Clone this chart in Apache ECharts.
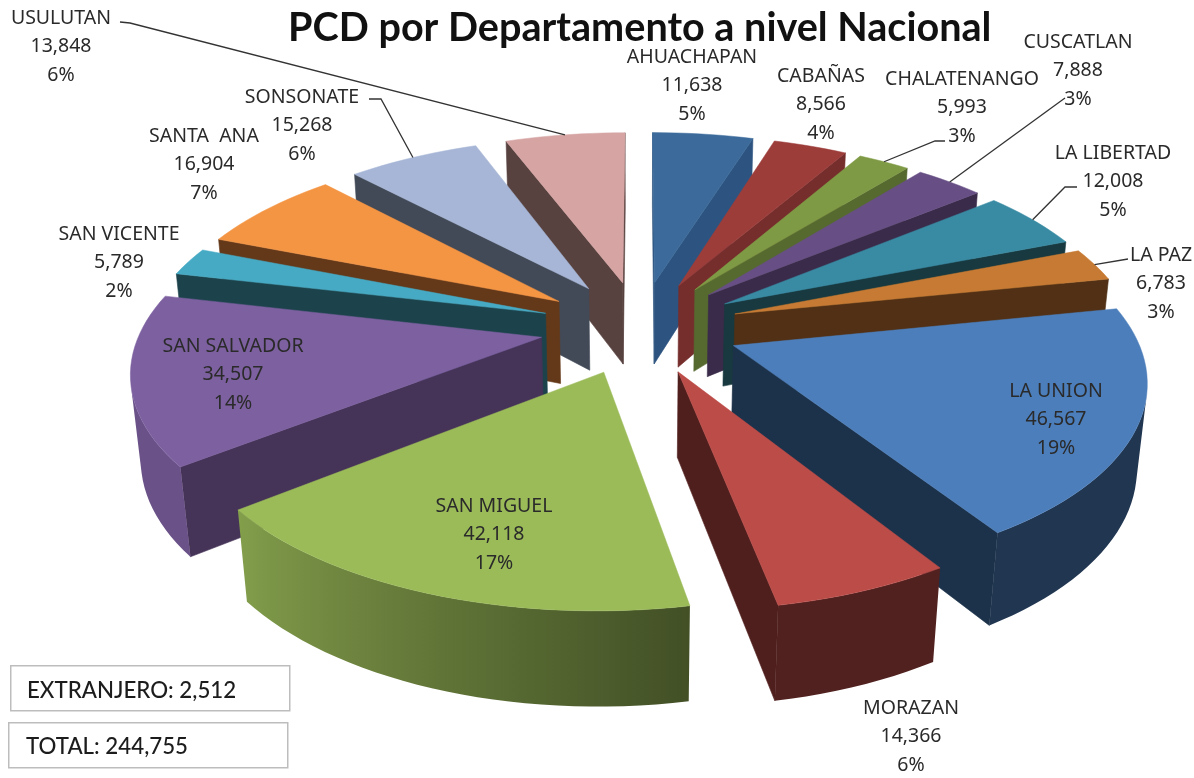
<!DOCTYPE html>
<html><head><meta charset="utf-8">
<style>html,body{margin:0;padding:0;background:#fff}#c{width:1194px;height:778px}</style>
<script src="https://cdn.jsdelivr.net/npm/echarts@6/dist/echarts.min.js"></script>
</head><body><div id="c"></div>
<script>
// ---- data ----
const categories = ['AHUACHAPAN','CABAÑAS','CHALATENANGO','CUSCATLAN','LA LIBERTAD','LA PAZ','LA UNION','MORAZAN','SAN MIGUEL','SAN SALVADOR','SAN VICENTE','SANTA  ANA','SONSONATE','USULUTAN'];
const values = [11638,8566,5993,7888,12008,6783,46567,14366,42118,34507,5789,16904,15268,13848];
const percents = [5,4,3,3,5,3,19,6,17,14,2,7,6,6];
const titleText = 'PCD por Departamento a nivel Nacional';
const extranjero = 2512;
const total = 244755;

// ---- styles ----
const topColors  = ['#3b6a9b','#9c3d3a','#7f9a45','#674f85','#388ba3','#c67a33','#4c7ebb','#bc4c48','#9bbb59','#7d60a0','#46aac5','#f49544','#a7b6d6','#d5a4a3'];
const sideColors = ['#2d5480','#752e2c','#566a30','#3b2b4a','#17393f','#513015','#1c324a','#4f1f1d','#4d5e2c','#453358','#1c434c','#64391a','#424a58','#58423f'];
const FONT = 'Lato';
const LABEL_FONT = '"Noto Sans"';

// ---- view model of the tilted, exploded pie ----
const VIEW = {cx:640, cy:327, A:400, B:186, H:85, p:0.155, g:0.02, e:0.25};
function project(x,y,h){
  const q = 1 + VIEW.p*y + VIEW.g*h;
  return [VIEW.cx + VIEW.A*x/q, VIEW.cy + (-VIEW.B*y + VIEW.H*h)/q];
}
const sum = values.reduce((a,b)=>a+b,0);
const slices = []; let acc = 0;
values.forEach(v=>{ const a0=acc/sum*360; acc+=v; const a1=acc/sum*360; slices.push({a0,a1,mid:(a0+a1)/2}); });
const rad = d=>d*Math.PI/180;
function world(i,r,deg){
  const m=rad(slices[i].mid), t=rad(deg);
  return [r*Math.sin(t)+VIEW.e*Math.sin(m), r*Math.cos(t)+VIEW.e*Math.cos(m)];
}
function mix(hex,f){
  const n=parseInt(hex.slice(1),16);
  const c=[n>>16,(n>>8)&255,n&255].map(v=>Math.round(v*f));
  return 'rgb('+c.join(',')+')';
}
function wallFactor(deg){
  if(deg<=170) return 0.43;
  if(deg>=232) return 0.85;
  return 0.43+(deg-170)/62*0.42;
}
function area(ps){ let s=0; ps.forEach((p,i)=>{const q=ps[(i+1)%ps.length]; s+=p[0]*q[1]-q[0]*p[1];}); return s/2; }
function quadPts(w1,w2){ return [project(w1[0],w1[1],0),project(w2[0],w2[1],0),project(w2[0],w2[1],1),project(w1[0],w1[1],1)]; }
function radial(w1,w2,fill){
  const ps=quadPts(w1,w2);
  if(area(ps)>=0) return null;
  return {type:'polygon',shape:{points:ps},style:{fill:fill,stroke:fill,lineWidth:0.6}};
}
function renderSlice(params,api){
  const i=api.value(0);
  const s=slices[i]; const steps=Math.max(4,Math.ceil((s.a1-s.a0)/2));
  const apex=world(i,0,0), kids=[], topPts=[project(apex[0],apex[1],0)];
  const rimStart=world(i,1,s.a0), rimEnd=world(i,1,s.a1);
  const q1=radial(apex,rimStart,sideColors[i]), q2=radial(rimEnd,apex,sideColors[i]);
  if(q1)kids.push(q1); if(q2)kids.push(q2);
  let prev=rimStart;
  topPts.push(project(prev[0],prev[1],0));
  const upper=[], lower=[], shades=[];
  for(let k=1;k<=steps;k++){
    const d=s.a0+(s.a1-s.a0)*k/steps, cur=world(i,1,d);
    const ps=quadPts(prev,cur);
    if(area(ps)<0){
      if(!upper.length){ upper.push(ps[0]); lower.push(ps[3]); shades.push([ps[0][0],wallFactor(d-(s.a1-s.a0)/steps)]); }
      upper.push(ps[1]); lower.push(ps[2]); shades.push([ps[1][0],wallFactor(d)]);
    }
    topPts.push(ps[1]);
    prev=cur;
  }
  if(upper.length){
    const xs=shades.map(v=>v[0]), x0=Math.min.apply(null,xs), x1=Math.max.apply(null,xs);
    const stops=shades.map(v=>({offset:(v[0]-x0)/(x1-x0||1),color:mix(topColors[i],v[1])})).sort((a,b)=>a.offset-b.offset);
    const grad={type:'linear',x:x0,y:0,x2:x1,y2:0,global:true,colorStops:stops};
    kids.push({type:'polygon',shape:{points:upper.concat(lower.slice().reverse())},style:{fill:grad}});
  }
  kids.push({type:'polygon',shape:{points:topPts},style:{fill:topColors[i],stroke:topColors[i],lineWidth:0.5}});
  return {type:'group',children:kids};
}
// back slices first
const order = categories.map((_,i)=>i).sort((a,b)=>Math.cos(rad(slices[b].mid))-Math.cos(rad(slices[a].mid)));

// label placement: [centre x, first line y]; leader: points from label towards the rim
const LABEL_AT = {0:[692,57],1:[821,76],2:[962,79],3:[1078,42],4:[1113,153],5:[1161,255],6:[1056,391],7:[911,708],8:[494,506],9:[233,346],10:[119,234],11:[204,136],12:[302,97],13:[61,18]};
const LEADER = {2:[[945,141],[935,141]],3:[[1065,98]],4:[[1077,187],[1065,187]],5:[[1128,259]],12:[[369,99],[381,99]],13:[[120,22],[130,23]]};
const LINE_H = 28.6;
function renderLabel(params,api){
  const i=api.value(0), at=LABEL_AT[i], kids=[];
  const lines=[categories[i],values[i].toLocaleString('en-US'),percents[i]+'%'];
  lines.forEach((t,k)=>kids.push({type:'text',style:{text:t,x:at[0],y:at[1]+k*LINE_H,align:'center',verticalAlign:'middle',font:'19.5px '+LABEL_FONT,fill:'#2a2a2a'}}));
  if(LEADER[i]){
    const w=world(i,1,slices[i].mid);
    kids.push({type:'polyline',shape:{points:LEADER[i].concat([project(w[0],w[1],0)])},style:{fill:null,stroke:'#333',lineWidth:1.3}});
  }
  return {type:'group',children:kids};
}
function box(x,y,w,h,t,tx,ty){
  return [{type:'rect',left:x,top:y,shape:{width:w,height:h},style:{fill:'#fff',stroke:'#bdbdbd',lineWidth:1.5}},
          {type:'text',left:tx,top:ty,style:{text:t,font:'500 22.3px '+FONT,fill:'#1c1c1c'}}];
}
const chart=echarts.init(document.getElementById('c'),null,{renderer:'canvas'});
chart.setOption({
  animation:false,
  backgroundColor:'#fff',
  title:{text:titleText,left:288,top:8,textStyle:{fontFamily:FONT,fontWeight:'bold',fontSize:39.6,color:'#111'},padding:0,itemGap:0},
  graphic:box(10,665,279,45,'EXTRANJERO: '+extranjero.toLocaleString('en-US'),27,680).concat(box(8,722,279,45,'TOTAL: '+total.toLocaleString('en-US'),26,736)),
  series:[
    {type:'custom',coordinateSystem:'none',renderItem:renderSlice,silent:true,data:order.map(i=>[i,values[i]]),clip:false,z:2},
    {type:'custom',coordinateSystem:'none',renderItem:renderLabel,silent:true,data:order.map(i=>[i,values[i]]),clip:false,z:5}
  ]
});
</script></body></html>
